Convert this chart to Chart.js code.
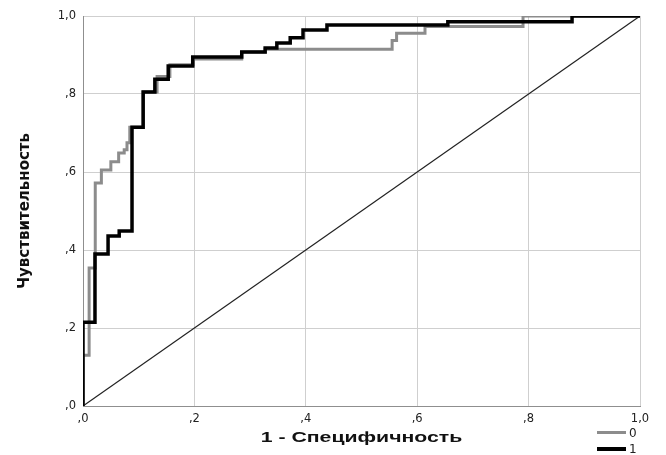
<!DOCTYPE html>
<html>
<head>
<meta charset="utf-8">
<script src="https://cdn.jsdelivr.net/npm/chart.js@4.4.1/dist/chart.umd.min.js"></script>
<style>
  html, body { margin: 0; padding: 0; background: #ffffff; }
  #wrap { position: relative; width: 666px; height: 455px; overflow: hidden; }
  #c { position: absolute; left: 0; top: 0; }
  .lg-line { position: absolute; left: 597px; width: 29px; }
  .lg-text { position: absolute; left: 629px; font: 12px "DejaVu Sans", sans-serif; color: #222; line-height: 12px; }
</style>
</head>
<body>
<div id="wrap">
  <canvas id="c" width="666" height="455"></canvas>
  <div class="lg-line" style="top:431px;height:3px;background:#8c8c8c"></div>
  <div class="lg-text" style="top:427px">0</div>
  <div class="lg-line" style="top:447px;height:4px;background:#000"></div>
  <div class="lg-text" style="top:443px">1</div>
</div>
<script>
// ---- data ----
const seriesNames = ['0', '1'];

// ROC curve vertices for group "0" (grey)
const fpr0 = [0, 0, 0.011, 0.011, 0.022, 0.022, 0.033, 0.033, 0.050, 0.050, 0.064, 0.064, 0.074, 0.074, 0.079, 0.079, 0.084, 0.084, 0.108, 0.108, 0.133, 0.133, 0.156, 0.156, 0.198, 0.198, 0.285, 0.285, 0.327, 0.327, 0.555, 0.555, 0.563, 0.563, 0.614, 0.614, 0.790, 0.790, 1];
const tpr0 = [0, 0.13, 0.13, 0.354, 0.354, 0.572, 0.572, 0.605, 0.605, 0.626, 0.626, 0.649, 0.649, 0.657, 0.657, 0.675, 0.675, 0.715, 0.715, 0.805, 0.805, 0.845, 0.845, 0.875, 0.875, 0.89, 0.89, 0.908, 0.908, 0.915, 0.915, 0.937, 0.937, 0.956, 0.956, 0.973, 0.973, 1, 1];

// ROC curve vertices for group "1" (black)
const fpr1 = [0, 0, 0.0215, 0.0215, 0.045, 0.045, 0.065, 0.065, 0.088, 0.088, 0.108, 0.108, 0.129, 0.129, 0.153, 0.153, 0.197, 0.197, 0.285, 0.285, 0.327, 0.327, 0.348, 0.348, 0.372, 0.372, 0.395, 0.395, 0.438, 0.438, 0.655, 0.655, 0.878, 0.878, 1];
const tpr1 = [0, 0.215, 0.215, 0.39, 0.39, 0.436, 0.436, 0.449, 0.449, 0.715, 0.715, 0.805, 0.805, 0.838, 0.838, 0.872, 0.872, 0.895, 0.895, 0.908, 0.908, 0.918, 0.918, 0.931, 0.931, 0.944, 0.944, 0.964, 0.964, 0.977, 0.977, 0.985, 0.985, 1, 1];

// reference (chance) line
const refX = [0, 1];
const refY = [0, 1];

// axis ticks
const tickValues = [0, 0.2, 0.4, 0.6, 0.8, 1.0];
const tickLabels = [',0', ',2', ',4', ',6', ',8', '1,0'];

const xTitle = '1 - Специфичность';
const yTitle = 'Чувствительность';

// ---- build chart ----
const toPts = (xs, ys) => xs.map((x, i) => ({ x: x, y: ys[i] }));
const tickFmt = (v) => {
  const idx = tickValues.findIndex(t => Math.abs(t - v) < 1e-6);
  return idx >= 0 ? tickLabels[idx] : '';
};

// x-axis title, drawn slightly widened like the reference
const xTitlePlugin = {
  id: 'xTitleWide',
  afterDraw(chart) {
    const ctx = chart.ctx;
    const a = chart.chartArea;
    ctx.save();
    ctx.translate((a.left + a.right) / 2, chart.height - 17);
    ctx.scale(1.37, 1);
    ctx.font = 'bold 15.5px "Liberation Sans", Arial, sans-serif';
    ctx.fillStyle = '#111';
    ctx.textAlign = 'center';
    ctx.textBaseline = 'middle';
    ctx.fillText(xTitle, 0, 0);
    ctx.restore();
  }
};

new Chart(document.getElementById('c'), {
  type: 'line',
  data: {
    datasets: [
      { label: seriesNames[1], data: toPts(fpr1, tpr1), borderColor: '#000000', borderWidth: 3.5, order: 0 },
      { label: seriesNames[0], data: toPts(fpr0, tpr0), borderColor: '#8c8c8c', borderWidth: 3, order: 1 },
      { label: 'ref', data: toPts(refX, refY), borderColor: '#222222', borderWidth: 1.2, order: 2 }
    ]
  },
  plugins: [xTitlePlugin],
  options: {
    responsive: false,
    animation: false,
    elements: {
      point: { radius: 0, hoverRadius: 0 },
      line: { tension: 0, fill: false, borderJoinStyle: 'miter', borderCapStyle: 'butt' }
    },
    layout: { padding: { left: 0, right: 26, top: 16, bottom: 0 } },
    plugins: { legend: { display: false }, tooltip: { enabled: false } },
    scales: {
      x: {
        type: 'linear', min: 0, max: 1,
        afterBuildTicks: (s) => { s.ticks = tickValues.map(v => ({ value: v })); },
        afterFit: (s) => { s.height = 49; },
        grid: { color: '#cfcfcf', lineWidth: 1, drawTicks: false },
        border: { color: '#8f8f8f', width: 1 },
        ticks: { callback: tickFmt, padding: 6, color: '#222', font: { family: 'DejaVu Sans', size: 11.5 }, maxRotation: 0, autoSkip: false },
        title: { display: false, text: xTitle }
      },
      y: {
        type: 'linear', min: 0, max: 1,
        afterBuildTicks: (s) => { s.ticks = tickValues.map(v => ({ value: v })); },
        afterFit: (s) => { s.width = 83; },
        grid: { color: '#cfcfcf', lineWidth: 1, drawTicks: false },
        border: { color: '#8f8f8f', width: 1 },
        ticks: { callback: tickFmt, padding: 7, color: '#222', font: { family: 'DejaVu Sans', size: 11.5 }, autoSkip: false },
        title: { display: true, text: yTitle, color: '#111', font: { family: 'DejaVu Sans', weight: 'bold', size: 15 }, padding: { top: 16, bottom: 0 } }
      }
    }
  }
});
</script>
</body>
</html>
